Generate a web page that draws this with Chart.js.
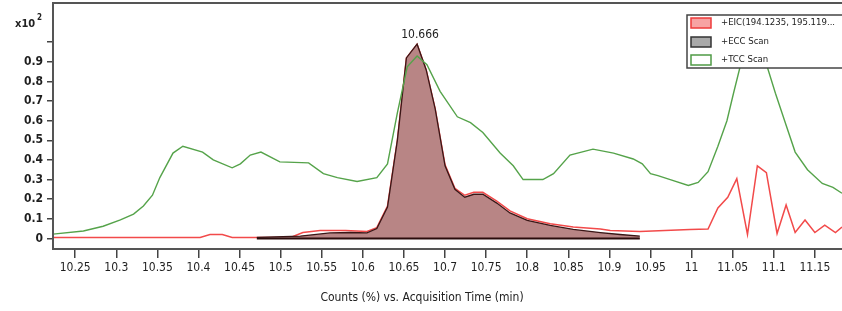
<!DOCTYPE html>
<html>
<head>
<meta charset="utf-8">
<script src="https://cdn.jsdelivr.net/npm/chart.js@4/dist/chart.umd.min.js"></script>
<style>
  html, body { margin: 0; padding: 0; background: #fff; }
  #wrap { width: 842px; height: 311px; }
</style>
</head>
<body>
<div id="wrap"><canvas id="myChart" width="842" height="311"></canvas></div>
<script>
// values (time in min, counts in x10^2 %)
const eccTime = [10.471, 10.524, 10.56, 10.585, 10.605, 10.617, 10.63, 10.642, 10.653, 10.666, 10.677, 10.688, 10.7, 10.712, 10.724, 10.735, 10.746, 10.763, 10.779, 10.8, 10.828, 10.856, 10.889, 10.913, 10.937];
const eccValue = [0.005, 0.012, 0.028, 0.03, 0.028, 0.05, 0.16, 0.5, 0.92, 0.99, 0.86, 0.66, 0.37, 0.25, 0.21, 0.225, 0.225, 0.18, 0.13, 0.092, 0.066, 0.046, 0.03, 0.02, 0.012];

const eicTime = [10.223, 10.402, 10.414, 10.429, 10.441, 10.512, 10.527, 10.548, 10.579, 10.605, 10.617, 10.63, 10.642, 10.653, 10.666, 10.677, 10.688, 10.7, 10.712, 10.724, 10.735, 10.746, 10.763, 10.779, 10.8, 10.828, 10.856, 10.889, 10.901, 10.937, 10.998, 11.02, 11.032, 11.044, 11.055, 11.068, 11.08, 11.091, 11.104, 11.115, 11.126, 11.138, 11.15, 11.162, 11.175, 11.183];
const eicValue = [0.005, 0.005, 0.02, 0.02, 0.005, 0.005, 0.03, 0.04, 0.04, 0.035, 0.055, 0.165, 0.5, 0.92, 0.99, 0.86, 0.66, 0.375, 0.255, 0.22, 0.235, 0.235, 0.19, 0.14, 0.1, 0.075, 0.058, 0.048, 0.04, 0.035, 0.045, 0.048, 0.155, 0.21, 0.305, 0.02, 0.37, 0.335, 0.025, 0.17, 0.03, 0.094, 0.03, 0.068, 0.03, 0.058];

const tccTime = [10.223, 10.26, 10.284, 10.305, 10.321, 10.333, 10.344, 10.353, 10.369, 10.381, 10.405, 10.418, 10.441, 10.451, 10.463, 10.476, 10.499, 10.534, 10.552, 10.569, 10.593, 10.617, 10.63, 10.642, 10.654, 10.666, 10.678, 10.694, 10.715, 10.731, 10.746, 10.767, 10.783, 10.795, 10.819, 10.832, 10.852, 10.88, 10.905, 10.929, 10.94, 10.95, 10.959, 10.974, 10.996, 11.008, 11.02, 11.032, 11.043, 11.051, 11.059, 11.074, 11.083, 11.092, 11.102, 11.114, 11.126, 11.141, 11.159, 11.172, 11.183];
const tccValue = [0.022, 0.038, 0.062, 0.094, 0.124, 0.165, 0.22, 0.31, 0.435, 0.47, 0.44, 0.4, 0.36, 0.38, 0.425, 0.44, 0.39, 0.385, 0.33, 0.31, 0.29, 0.31, 0.38, 0.64, 0.875, 0.93, 0.885, 0.75, 0.62, 0.59, 0.54, 0.435, 0.37, 0.3, 0.3, 0.33, 0.425, 0.455, 0.435, 0.405, 0.38, 0.33, 0.32, 0.3, 0.27, 0.285, 0.34, 0.47, 0.6, 0.74, 0.875, 0.97, 0.96, 0.875, 0.74, 0.59, 0.44, 0.35, 0.28, 0.26, 0.23];

const xTicks = [10.25, 10.3, 10.35, 10.4, 10.45, 10.5, 10.55, 10.6, 10.65, 10.7, 10.75, 10.8, 10.85, 10.9, 10.95, 11, 11.05, 11.1, 11.15];
const yTicks = [0, 0.1, 0.2, 0.3, 0.4, 0.5, 0.6, 0.7, 0.8, 0.9, 1.0];
const yTickLabels = ["0", "0.1", "0.2", "0.3", "0.4", "0.5", "0.6", "0.7", "0.8", "0.9", ""];

const seriesNames = ["+EIC(194.1235, 195.119...", "+ECC Scan", "+TCC Scan"];
const peakLabel = "10.666";
const xTitle = "Counts (%) vs. Acquisition Time (min)";

const FONT = "'DejaVu Sans Condensed', 'DejaVu Sans', sans-serif";

function pts(xs, ys) {
  return xs.map((x, i) => ({ x: x, y: ys[i] }));
}

const extras = {
  id: "extras",
  afterDraw(chart) {
    const ctx = chart.ctx;
    const a = chart.chartArea;
    const xs = chart.scales.x, ys = chart.scales.y;
    ctx.save();

    // frame round the plot
    ctx.strokeStyle = "#555";
    ctx.lineWidth = 2;
    ctx.strokeRect(a.left, a.top, a.right - a.left + 5, a.bottom - a.top);

    // peak label over the ECC maximum
    let k = 0;
    for (let i = 1; i < eccValue.length; i++) if (eccValue[i] > eccValue[k]) k = i;
    ctx.fillStyle = "#222";
    ctx.font = "12px " + FONT;
    ctx.textAlign = "center";
    ctx.textBaseline = "bottom";
    ctx.fillText(peakLabel, xs.getPixelForValue(eccTime[k]) + 3, ys.getPixelForValue(eccValue[k]) - 3);

    // x10^2 label
    ctx.textAlign = "left";
    ctx.textBaseline = "alphabetic";
    ctx.font = "bold 11px " + FONT;
    ctx.fillText("x10", 15, 27);
    ctx.font = "bold 8px " + FONT;
    ctx.fillText("2", 37, 20);

    // axis title
    ctx.font = "12px " + FONT;
    ctx.textAlign = "center";
    ctx.textBaseline = "middle";
    ctx.fillText(xTitle, 422, 298);

    // legend
    const lx = 687, ly = 15, lh = 53;
    ctx.fillStyle = "#fff";
    ctx.fillRect(lx, ly, 842 - lx, lh);
    ctx.strokeStyle = "#444";
    ctx.lineWidth = 1.5;
    ctx.strokeRect(lx, ly, 842 - lx + 5, lh);
    const sw = [
      { fill: "#f7a3a3", stroke: "#ee3b3b" },
      { fill: "#a9a9a9", stroke: "#333" },
      { fill: "#fff", stroke: "#4f9a45" }
    ];
    const rowY = [23, 42, 60];
    ctx.font = "9.5px " + FONT;
    ctx.textAlign = "left";
    ctx.textBaseline = "middle";
    for (let i = 0; i < 3; i++) {
      ctx.fillStyle = sw[i].fill;
      ctx.fillRect(691, rowY[i] - 5, 20, 10);
      ctx.strokeStyle = sw[i].stroke;
      ctx.lineWidth = 1.5;
      ctx.strokeRect(691, rowY[i] - 5, 20, 10);
      ctx.fillStyle = "#222";
      ctx.fillText(seriesNames[i], 721, rowY[i]);
    }
    ctx.restore();
  }
};

new Chart("myChart", {
  type: "line",
  data: {
    datasets: [{
      label: seriesNames[2],
      data: pts(tccTime, tccValue),
      borderColor: "#55a34a",
      borderWidth: 1.4,
      pointRadius: 0,
      fill: false,
      tension: 0,
      order: 1
    }, {
      label: seriesNames[0],
      data: pts(eicTime, eicValue),
      borderColor: "#f24a4a",
      borderWidth: 1.5,
      pointRadius: 0,
      fill: false,
      tension: 0,
      order: 3
    }, {
      label: seriesNames[1],
      data: pts(eccTime, eccValue),
      borderColor: "#3a1616",
      backgroundColor: "#b88585",
      borderWidth: 1.3,
      pointRadius: 0,
      fill: "origin",
      tension: 0,
      order: 2
    }, {
      label: "ECC base",
      data: pts([eccTime[0], eccTime[eccTime.length - 1]], [0, 0]),
      borderColor: "#2a0c0c",
      borderWidth: 2,
      pointRadius: 0,
      fill: false,
      order: 0
    }]
  },
  options: {
    responsive: false,
    animation: false,
    devicePixelRatio: 1,
    layout: { padding: { top: 3, left: 0, right: 0, bottom: 0 } },
    plugins: { legend: { display: false }, tooltip: { enabled: false } },
    scales: {
      x: {
        type: "linear",
        min: 10.223,
        max: 11.183,
        afterBuildTicks: s => { s.ticks = xTicks.map(v => ({ value: v })); },
        afterFit: s => { s.height = 62; s.paddingLeft = 0; s.paddingRight = 0; },
        ticks: {
          callback: v => String(+v.toFixed(2)),
          autoSkip: false,
          maxRotation: 0,
          padding: 3,
          color: "#1e1e1e",
          font: { family: FONT, size: 12 }
        },
        grid: { drawOnChartArea: false, tickLength: 9, color: "#444", lineWidth: 1.5 },
        border: { color: "#555", width: 2 }
      },
      y: {
        min: -0.054,
        max: 1.2,
        afterBuildTicks: s => { s.ticks = yTicks.map(v => ({ value: v })); },
        afterFit: s => { s.width = 53; s.paddingTop = 0; s.paddingBottom = 0; },
        ticks: {
          callback: (v, i) => yTickLabels[i],
          padding: 4,
          color: "#1e1e1e",
          font: { family: FONT, size: 12, weight: "bold" }
        },
        grid: { drawOnChartArea: false, tickLength: 6, color: "#444", lineWidth: 1.5 },
        border: { color: "#555", width: 2 }
      }
    }
  },
  plugins: [extras]
});
</script>
</body>
</html>
